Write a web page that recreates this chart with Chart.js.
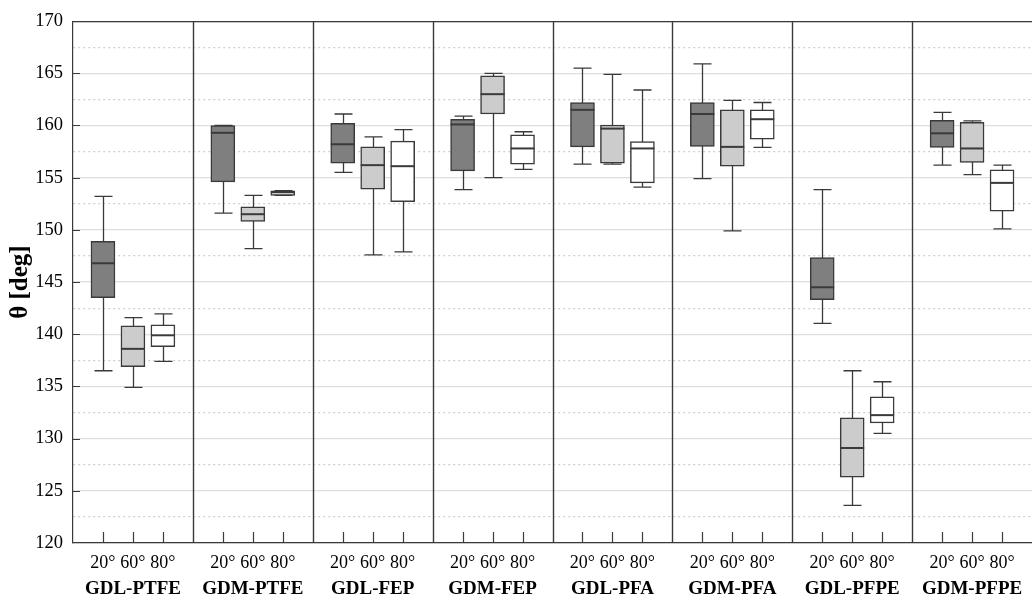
<!DOCTYPE html>
<html>
<head>
<meta charset="utf-8">
<script src="https://cdn.jsdelivr.net/npm/chart.js@4.4.1/dist/chart.umd.min.js"></script>
<style>
html, body { margin: 0; padding: 0; background: #fff; }
#wrap { width: 1032px; height: 600px; }
</style>
</head>
<body>
<div id="wrap"><canvas id="angleChart"></canvas></div>
<script>
var groups = ["GDL-PTFE", "GDM-PTFE", "GDL-FEP", "GDM-FEP", "GDL-PFA", "GDM-PFA", "GDL-PFPE", "GDM-PFPE"];
var angles = ["20°", "60°", "80°"];

// [min, q1, median, q3, max] for each group
var stats20 = [
    [136.5, 143.5, 146.8, 148.9, 153.2],
    [151.6, 154.6, 159.3, 160.0, 160.0],
    [155.5, 156.4, 158.2, 160.2, 161.1],
    [153.85, 155.65, 160.1, 160.6, 160.9],
    [156.3, 157.95, 161.5, 162.2, 165.5],
    [154.9, 158.0, 161.1, 162.2, 165.9],
    [141.05, 143.3, 144.5, 147.35, 153.85],
    [156.2, 157.9, 159.25, 160.5, 161.25]
];
var stats60 = [
    [134.9, 136.9, 138.6, 140.8, 141.6],
    [148.2, 150.8, 151.5, 152.2, 153.3],
    [147.6, 153.9, 156.2, 157.95, 158.9],
    [155.0, 161.1, 163.0, 164.75, 165.0],
    [156.3, 156.4, 159.7, 160.05, 164.9],
    [149.9, 156.1, 157.95, 161.5, 162.4],
    [123.6, 126.3, 129.1, 132.0, 136.5],
    [155.3, 156.45, 157.8, 160.3, 160.45]
];
var stats80 = [
    [137.4, 138.8, 139.9, 140.9, 141.95],
    [153.3, 153.3, 153.6, 153.75, 153.75],
    [147.9, 152.7, 156.1, 158.5, 159.6],
    [155.8, 156.3, 157.8, 159.1, 159.4],
    [154.1, 154.5, 157.8, 158.45, 163.4],
    [157.9, 158.7, 160.6, 161.5, 162.2],
    [130.5, 131.5, 132.25, 134.0, 135.45],
    [150.1, 151.8, 154.5, 155.75, 156.2]
];
var boxColors = ["#7f7f7f", "#cccccc", "#ffffff"];
var yMin = 120, yMax = 170, yStep = 2.5;

var serif = "'Liberation Serif', 'Times New Roman', serif";
var lineColor = "#3a3a3a";

function boxDataset(stats, k)
{
    return {
        label: angles[k],
        stats: stats,
        data: stats.map(function(s, g) { return { x: 4 * g + k + 1, y: [s[1], s[3]] }; }),
        backgroundColor: boxColors[k],
        borderColor: lineColor,
        borderWidth: 1.5,
        borderSkipped: false,
        barThickness: 24,
        grouped: false
    };
}

var boxParts =
{
    id: 'boxParts',
    beforeDatasetsDraw: function(chart)
    {
        var ctx = chart.ctx, xs = chart.scales.x, ys = chart.scales.y, area = chart.chartArea;
        ctx.save();
        ctx.strokeStyle = lineColor;
        ctx.lineWidth = 1.4;
        ctx.beginPath();
        for (var g = 1; g < groups.length; g++)
        {
            var px = Math.round(xs.getPixelForValue(4 * g)) + 0.5;
            ctx.moveTo(px, area.top);
            ctx.lineTo(px, area.bottom);
        }
        ctx.moveTo(area.left, area.top + 0.5);
        ctx.lineTo(area.right, area.top + 0.5);
        ctx.stroke();

        // whiskers
        ctx.lineWidth = 1.3;
        chart.data.datasets.forEach(function(ds)
        {
            ds.stats.forEach(function(s, i)
            {
                var px = Math.round(xs.getPixelForValue(ds.data[i].x)) + 0.5;
                var lo = ys.getPixelForValue(s[0]), hi = ys.getPixelForValue(s[4]);
                ctx.beginPath();
                ctx.moveTo(px, lo); ctx.lineTo(px, hi);
                ctx.moveTo(px - 9, lo); ctx.lineTo(px + 9, lo);
                ctx.moveTo(px - 9, hi); ctx.lineTo(px + 9, hi);
                ctx.stroke();
            });
        });
        ctx.restore();
    },
    afterDatasetsDraw: function(chart)
    {
        var ctx = chart.ctx, xs = chart.scales.x, ys = chart.scales.y, area = chart.chartArea;
        ctx.save();
        ctx.strokeStyle = lineColor;
        ctx.lineWidth = 2;
        chart.data.datasets.forEach(function(ds)
        {
            ds.stats.forEach(function(s, i)
            {
                var px = xs.getPixelForValue(ds.data[i].x);
                var py = ys.getPixelForValue(s[2]);
                ctx.beginPath();
                ctx.moveTo(px - 12, py); ctx.lineTo(px + 12, py);
                ctx.stroke();
            });
        });

        // inward tick marks
        ctx.lineWidth = 1.2;
        ctx.beginPath();
        xs.ticks.forEach(function(t)
        {
            var px = Math.round(xs.getPixelForValue(t.value)) + 0.5;
            ctx.moveTo(px, area.bottom);
            ctx.lineTo(px, area.bottom - 11);
        });
        for (var v = yMin + 5; v < yMax; v += 5)
        {
            var py = Math.round(ys.getPixelForValue(v)) + 0.5;
            ctx.moveTo(area.left, py);
            ctx.lineTo(area.left + 7, py);
        }
        ctx.stroke();
        ctx.restore();
    }
};

var ctx1 = document.getElementById("angleChart").getContext('2d');

var angleChart = new Chart(ctx1,
{
    type: 'bar',
    data:
    {
        datasets: [boxDataset(stats20, 0), boxDataset(stats60, 1), boxDataset(stats80, 2)]
    },
    options:
    {
        responsive: true,
        maintainAspectRatio: false,
        animation: false,
        layout: { padding: { top: 19, right: 0, bottom: 0, left: 0 } },
        plugins:
        {
            legend: { display: false },
            tooltip: { enabled: false }
        },
        scales:
        {
            x:
            {
                type: 'linear',
                position: 'bottom',
                offset: false,
                min: 0,
                max: 4 * groups.length,
                afterBuildTicks: function(scale)
                {
                    var t = [];
                    for (var g = 0; g < groups.length; g++)
                        for (var k = 0; k < angles.length; k++)
                            t.push({ value: 4 * g + k + 1 });
                    scale.ticks = t;
                },
                afterFit: function(scale) { scale.height = 32; },
                ticks:
                {
                    autoSkip: false,
                    maxRotation: 0,
                    padding: 9,
                    color: '#000',
                    font: { family: serif, size: 18 },
                    callback: function(value) { return angles[(value - 1) % 4]; }
                },
                grid: { display: false, drawTicks: false, offset: false },
                border: { color: lineColor, width: 1.2 }
            },
            x2:
            {
                type: 'linear',
                position: 'bottom',
                offset: false,
                min: 0,
                max: 4 * groups.length,
                afterBuildTicks: function(scale)
                {
                    scale.ticks = groups.map(function(n, g) { return { value: 4 * g + 2 }; });
                },
                afterFit: function(scale) { scale.height = 25; },
                ticks:
                {
                    autoSkip: false,
                    maxRotation: 0,
                    padding: 3,
                    color: '#000',
                    font: { family: serif, size: 19, weight: 'bold' },
                    callback: function(value) { return groups[(value - 2) / 4]; }
                },
                grid: { display: false, drawTicks: false, offset: false },
                border: { display: false }
            },
            y:
            {
                min: yMin,
                max: yMax,
                afterFit: function(scale) { scale.width = 73; },
                ticks:
                {
                    stepSize: yStep,
                    autoSkip: false,
                    padding: 10,
                    color: '#000',
                    font: { family: serif, size: 18.5 },
                    callback: function(value) { return value % 5 === 0 ? value : ''; }
                },
                grid:
                {
                    drawTicks: false,
                    color: function(c) { return c.tick && c.tick.value % 5 === 0 ? '#dedede' : '#cfcfcf'; },
                    lineWidth: 1.2
                },
                border:
                {
                    color: lineColor,
                    width: 1.2,
                    dash: function(c) { return c.tick && c.tick.value % 5 !== 0 ? [2, 3] : []; }
                },
                title:
                {
                    display: true,
                    text: 'θ [deg]',
                    color: '#000',
                    padding: { top: 6, bottom: 0 },
                    font: { family: serif, size: 25, weight: 'bold' }
                }
            }
        }
    },
    plugins: [boxParts]
});
</script>
</body>
</html>
